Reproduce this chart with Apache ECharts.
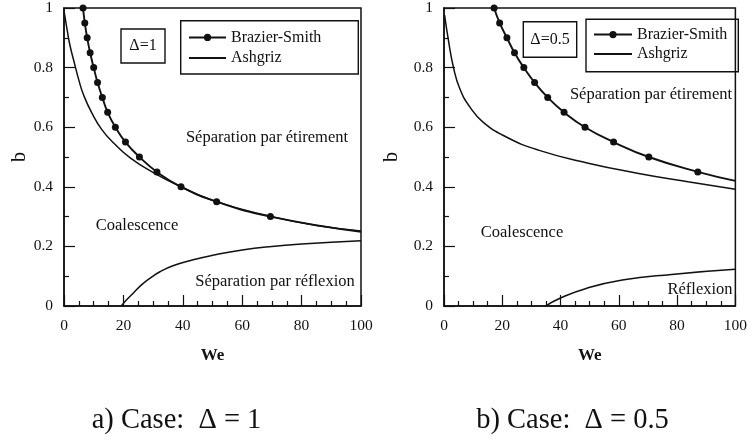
<!DOCTYPE html>
<html>
<head>
<meta charset="utf-8">
<script src="https://cdn.jsdelivr.net/npm/echarts@6/dist/echarts.min.js"></script>
<style>
  html, body { margin: 0; padding: 0; background: #fff; }
  #chart { width: 750px; height: 445px; }
</style>
</head>
<body>
<div id="chart"></div>
<script>
// panel a) delta = 1  -- [We, b]
const brazierA = [[6.4, 1], [7, 0.95], [7.8, 0.9], [8.8, 0.85], [10, 0.8], [11.3, 0.75], [12.9, 0.7], [14.7, 0.65],
  [17.3, 0.6], [20.7, 0.55], [25.4, 0.5], [31.3, 0.45], [39.4, 0.4], [51.4, 0.35], [69.5, 0.3]]
const brazierEndA = [100, 0.249]
const ashgrizA = [[0, 0.99], [1, 0.93], [2, 0.875], [3.3, 0.823], [5, 0.758], [6.6, 0.708], [9.4, 0.647], [12.8, 0.591],
  [16.8, 0.546], [22.4, 0.496], [30.2, 0.447], [39.2, 0.401], [51, 0.351], [69.5, 0.301], [85, 0.27], [100, 0.252]]
const reflexA = [[19.3, 0], [21, 0.02], [23.3, 0.043], [26, 0.07], [28.9, 0.093], [32.3, 0.115], [36.7, 0.135],
  [43.5, 0.155], [50, 0.17], [60, 0.188], [70, 0.2], [80, 0.208], [100, 0.219]]

// panel b) delta = 0.5
const brazierB = [[17.2, 1], [19.1, 0.95], [21.6, 0.9], [24.2, 0.85], [27.4, 0.8], [31.1, 0.75], [35.6, 0.7],
  [41.2, 0.65], [48.4, 0.6], [58.2, 0.55], [70.3, 0.5], [87.1, 0.45]]
const brazierEndB = [100, 0.42]
const ashgrizB = [[0.2, 0.976], [1.5, 0.893], [3.2, 0.803], [5.4, 0.73], [8.8, 0.669], [13.3, 0.618], [21.2, 0.568],
  [32.4, 0.523], [49.5, 0.479], [66.8, 0.445], [83.7, 0.417], [100, 0.392]]
const reflexB = [[34.9, 0], [39.8, 0.026], [48.8, 0.059], [61.2, 0.087], [78.1, 0.106], [100, 0.123]]

const legendNames = ['Brazier-Smith', 'Ashgriz']
const captions = ['a) Case:  \u0394 = 1', 'b) Case:  \u0394 = 0.5']

const ink = '#111'
const serif = 'Liberation Serif'

function xAxisOf(grid) {
  return {
    gridIndex: grid, type: 'value', min: 0, max: 100, interval: 20,
    name: 'We', nameLocation: 'middle', nameGap: 41,
    nameTextStyle: { fontFamily: serif, fontSize: 17, fontWeight: 'bold', color: ink },
    axisLine: { show: true, lineStyle: { color: ink, width: 1.5 } },
    axisTick: { show: true, inside: true, length: 11, lineStyle: { color: ink, width: 1.2 } },
    minorTick: { show: true, splitNumber: 4, length: 5, lineStyle: { color: ink, width: 1.2 } },
    axisLabel: { margin: 12, fontFamily: serif, fontSize: 15.5, color: ink },
    splitLine: { show: false }
  }
}

function yAxisOf(grid, gap) {
  return {
    gridIndex: grid, type: 'value', min: 0, max: 1, interval: 0.2,
    name: 'b', nameLocation: 'middle', nameGap: gap,
    nameTextStyle: { fontFamily: serif, fontSize: 20, color: ink },
    axisLine: { show: true, lineStyle: { color: ink, width: 1.5 } },
    axisTick: { show: true, inside: true, length: 11, lineStyle: { color: ink, width: 1.2 } },
    minorTick: { show: true, splitNumber: 2, length: 5, lineStyle: { color: ink, width: 1.2 } },
    axisLabel: { margin: 11, fontFamily: serif, fontSize: 15.5, color: ink },
    splitLine: { show: false }
  }
}

function brazierSeries(grid, pts, end) {
  return {
    name: 'Brazier-Smith', type: 'line', xAxisIndex: grid, yAxisIndex: grid,
    data: pts.concat([{ value: end, symbol: 'none' }]),
    smooth: true, clip: false, z: 4,
    symbol: 'circle', symbolSize: 7,
    lineStyle: { color: ink, width: 1.9 },
    itemStyle: { color: ink }
  }
}

function plainSeries(name, grid, pts) {
  return {
    name: name, type: 'line', xAxisIndex: grid, yAxisIndex: grid,
    data: pts, smooth: true, clip: false, z: 3,
    showSymbol: false, symbol: 'circle',
    lineStyle: { color: ink, width: 1.5 },
    // transparent so the legend shows a bare line
    itemStyle: { color: 'rgba(0,0,0,0)' }
  }
}

function label(text, x, y, size) {
  return {
    type: 'text', x: x, y: y,
    style: { text: text, fontFamily: serif, fontSize: size || 16.5, fill: ink, align: 'center', verticalAlign: 'middle' }
  }
}

function box(x, y, w, h) {
  return {
    type: 'rect', shape: { x: x, y: y, width: w, height: h },
    style: { fill: 'none', stroke: ink, lineWidth: 1.4 }
  }
}

const chart = echarts.init(document.getElementById('chart'), null, { renderer: 'canvas' })

const option = {
  backgroundColor: '#fff',
  animation: false,
  grid: [
    { left: 64, top: 8, width: 297, height: 298, show: true, borderColor: ink, borderWidth: 1.5 },
    { left: 444, top: 8, width: 296, height: 298, show: true, borderColor: ink, borderWidth: 1.5 }
  ],
  xAxis: [xAxisOf(0), xAxisOf(1)],
  yAxis: [yAxisOf(0, 34), yAxisOf(1, 42)],
  legend: [
    {
      data: legendNames, orient: 'vertical', left: 188, top: 29.4, padding: 0,
      itemWidth: 37, itemHeight: 9, itemGap: 4.5, selectedMode: false,
      textStyle: { fontFamily: serif, fontSize: 16, color: ink }
    },
    {
      data: legendNames, orient: 'vertical', left: 593, top: 26.6, padding: 0,
      itemWidth: 38, itemHeight: 9, itemGap: 3.5, selectedMode: false,
      textStyle: { fontFamily: serif, fontSize: 16, color: ink }
    }
  ],
  series: [
    plainSeries('Ashgriz', 0, ashgrizA),
    plainSeries('reflexion a', 0, reflexA),
    brazierSeries(0, brazierA, brazierEndA),
    plainSeries('Ashgriz', 1, ashgrizB),
    plainSeries('reflexion b', 1, reflexB),
    brazierSeries(1, brazierB, brazierEndB)
  ],
  graphic: [
    box(121, 29, 44, 34),
    label('\u0394=1', 143, 46, 16),
    box(180.7, 20.7, 177.6, 53.3),
    label('S\u00e9paration par \u00e9tirement', 267, 138),
    label('Coalescence', 137, 226),
    label('S\u00e9paration par r\u00e9flexion', 275, 282),

    box(523.3, 21.7, 53.4, 35.6),
    label('\u0394=0.5', 550, 39.5, 16),
    box(586, 19.3, 152.3, 52.4),
    label('S\u00e9paration par \u00e9tirement', 651, 94.5),
    label('Coalescence', 522, 233),
    label('R\u00e9flexion', 700, 290),

    label(captions[0], 176.5, 421, 28.5),
    label(captions[1], 572.5, 421, 28.5)
  ]
}

chart.setOption(option)
</script>
</body>
</html>
